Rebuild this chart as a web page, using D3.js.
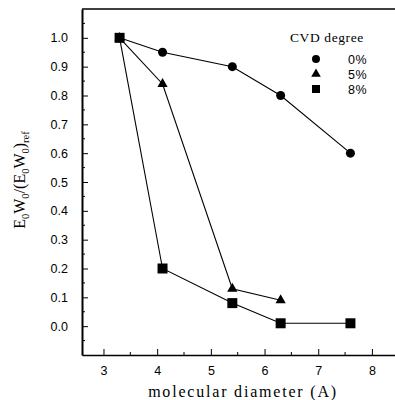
<!DOCTYPE html>
<html>
<head>
<meta charset="utf-8">
<script src="https://cdn.jsdelivr.net/npm/d3@7"></script>
<style>
  body { margin: 0; background: #fff; }
  svg { display: block; }
</style>
</head>
<body>
<div id="chart"></div>
<script>
// values
const diam0 = [3.3, 4.1, 5.4, 6.3, 7.6];
const cvd0 = [1.0, 0.95, 0.90, 0.80, 0.60];
const diam5 = [3.3, 4.1, 5.4, 6.3];
const cvd5 = [1.0, 0.84, 0.13, 0.09];
const diam8 = [3.3, 4.1, 5.4, 6.3, 7.6];
const cvd8 = [1.0, 0.20, 0.08, 0.01, 0.01];
const xTicks = [3, 4, 5, 6, 7, 8];
const yTicks = [0.0, 0.1, 0.2, 0.3, 0.4, 0.5, 0.6, 0.7, 0.8, 0.9, 1.0];
const legendLabels = ["0%", "5%", "8%"];

const W = 395, H = 400;
const svg = d3.select("#chart").append("svg")
  .attr("width", W).attr("height", H);

const x = d3.scaleLinear().domain([2.6, 8.43]).range([82, 395]);
const y = d3.scaleLinear().domain([-0.1, 1.1]).range([355, 9]);

// frame: top border line
svg.append("line")
  .attr("x1", x.range()[0]).attr("x2", x.range()[1])
  .attr("y1", y.range()[1]).attr("y2", y.range()[1])
  .attr("stroke", "#000").attr("stroke-width", 1.5);

// minor ticks
const xMinor = d3.range(2.5, 8.5, 0.5).filter(v => v > 2.6 && v < 8.43 && !xTicks.includes(v));
const yMinor = d3.range(-0.05, 1.1, 0.1);

svg.append("g").selectAll("line").data(xMinor).join("line")
  .attr("x1", d => x(d)).attr("x2", d => x(d))
  .attr("y1", y.range()[0]).attr("y2", y.range()[0] - 3)
  .attr("stroke", "#000");
svg.append("g").selectAll("line").data(yMinor).join("line")
  .attr("x1", x.range()[0]).attr("x2", x.range()[0] + 3)
  .attr("y1", d => y(d)).attr("y2", d => y(d))
  .attr("stroke", "#000");

// axes, ticks pointing inward
const xAxis = svg.append("g")
  .attr("transform", `translate(0,${y.range()[0]})`)
  .call(d3.axisBottom(x).tickValues(xTicks).tickFormat(d3.format("d"))
    .tickSizeInner(-6).tickSizeOuter(0).tickPadding(11));
xAxis.select(".domain").attr("stroke-width", 1.5);

const yAxis = svg.append("g")
  .attr("transform", `translate(${x.range()[0]},0)`)
  .call(d3.axisLeft(y).tickValues(yTicks).tickFormat(d3.format(".1f"))
    .tickSizeInner(-6).tickSizeOuter(0).tickPadding(14));
yAxis.select(".domain").attr("stroke-width", 2);

svg.selectAll(".tick text")
  .style("font-family", "Liberation Sans, Arial, sans-serif")
  .style("font-size", "12.5px")
  .attr("fill", "#000");

// lines
const line = d3.line().x(d => x(d[0])).y(d => y(d[1]));
const s0 = d3.zip(diam0, cvd0);
const s5 = d3.zip(diam5, cvd5);
const s8 = d3.zip(diam8, cvd8);

[s0, s5, s8].forEach(s => {
  svg.append("path").datum(s)
    .attr("fill", "none").attr("stroke", "#000").attr("stroke-width", 1.1)
    .attr("d", line);
});

const circ = d3.symbol().type(d3.symbolCircle).size(64);
const tri = d3.symbol().type(d3.symbolTriangle).size(45);
const sq = d3.symbol().type(d3.symbolSquare).size(100);

svg.append("g").selectAll("path").data(s0).join("path")
  .attr("transform", d => `translate(${x(d[0])},${y(d[1])})`)
  .attr("d", circ).attr("fill", "#000");
svg.append("g").selectAll("path").data(s5).join("path")
  .attr("transform", d => `translate(${x(d[0])},${y(d[1])})`)
  .attr("d", tri).attr("fill", "#000");
svg.append("g").selectAll("path").data(s8).join("path")
  .attr("transform", d => `translate(${x(d[0])},${y(d[1])})`)
  .attr("d", sq).attr("fill", "#000");

// legend
svg.append("text")
  .attr("x", 290).attr("y", 42)
  .style("font-family", "Liberation Serif, Times New Roman, serif")
  .style("font-size", "13.5px")
  .style("letter-spacing", "0.6px")
  .text("CVD degree");

const legSyms = [
  d3.symbol().type(d3.symbolCircle).size(50),
  d3.symbol().type(d3.symbolTriangle).size(40),
  d3.symbol().type(d3.symbolSquare).size(64)
];
legendLabels.forEach((lab, i) => {
  const yy = 59 + i * 15;
  svg.append("path")
    .attr("transform", `translate(316,${yy})`)
    .attr("d", legSyms[i]).attr("fill", "#000");
  svg.append("text")
    .attr("x", 348).attr("y", yy + 4.5)
    .style("font-family", "Liberation Sans, Arial, sans-serif")
    .style("font-size", "12.5px")
    .style("letter-spacing", "0.5px")
    .text(lab);
});

// axis titles
svg.append("text")
  .attr("x", 243).attr("y", 397)
  .attr("text-anchor", "middle")
  .style("font-family", "Liberation Serif, Times New Roman, serif")
  .style("font-size", "16px")
  .style("letter-spacing", "1.8px")
  .text("molecular diameter (A)");

const yl = svg.append("text")
  .attr("transform", "translate(25,180) rotate(-90)")
  .attr("text-anchor", "middle")
  .style("font-family", "Liberation Serif, Times New Roman, serif")
  .style("font-size", "16px");
yl.append("tspan").text("E");
yl.append("tspan").attr("dy", 4).style("font-size", "10.5px").text("0");
yl.append("tspan").attr("dy", -4).text("W");
yl.append("tspan").attr("dy", 4).style("font-size", "10.5px").text("0");
yl.append("tspan").attr("dy", -4).text("/(E");
yl.append("tspan").attr("dy", 4).style("font-size", "10.5px").text("0");
yl.append("tspan").attr("dy", -4).text("W");
yl.append("tspan").attr("dy", 4).style("font-size", "10.5px").text("0");
yl.append("tspan").attr("dy", -4).text(")");
yl.append("tspan").attr("dy", 4).style("font-size", "10.5px").text("ref");
</script>
</body>
</html>
